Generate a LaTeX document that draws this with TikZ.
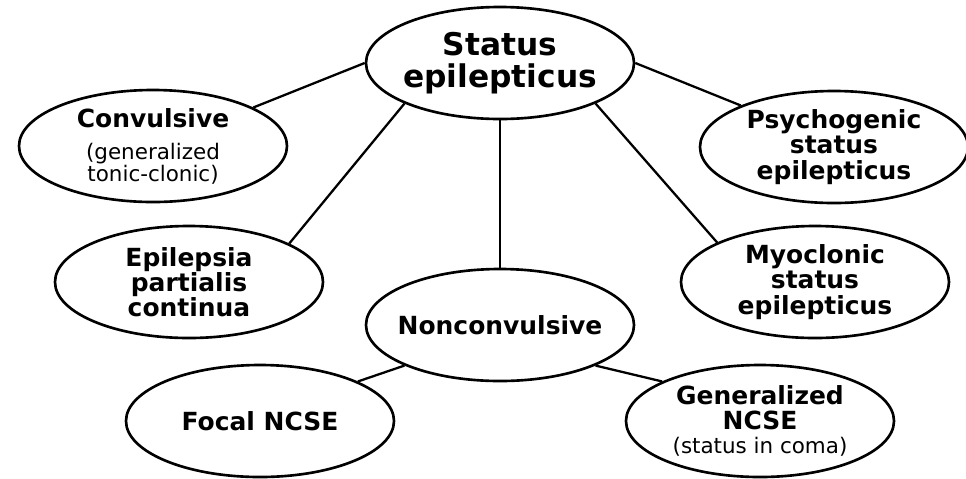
\documentclass[tikz,border=0pt]{standalone}
\usepackage{fontspec}
\setmainfont{DejaVu Sans}
\usetikzlibrary{shapes.geometric}
\tikzset{
  sebox/.style={draw=black, line width=1.5pt, ellipse, fill=white, minimum width=5.36cm, minimum height=2.24cm, inner sep=-6pt, align=center, font=\bfseries\fontsize{14.2}{14.4}\selectfont},
  selink/.style={line width=1.3pt}
}
\newcommand{\subtxt}[1]{{\mdseries\fontsize{12.2}{11}\selectfont #1}}

\begin{document}
\begin{tikzpicture}[x=0.2mm, y=-0.2mm]
\useasboundingbox (0,0) rectangle (966,478);
\node[sebox, font=\bfseries\fontsize{17.8}{18.2}\selectfont] (stat) at (500,63) {Status\\epilepticus};
\node[sebox] (conv) at (153,146) {Convulsive\\[4pt]\subtxt{(generalized}\\[-2pt]\subtxt{tonic-clonic)}};
\node[sebox] (psych) at (834,147) {Psychogenic\\status\\epilepticus};
\node[sebox] (epc) at (189,282) {Epilepsia\\partialis\\continua};
\node[sebox] (myo) at (815,282) {Myoclonic\\status\\epilepticus};
\node[sebox] (ncon) at (500,325) {Nonconvulsive};
\node[sebox] (focal) at (260,421) {Focal NCSE};
\node[sebox] (gen) at (760,421) {Generalized\\NCSE\\[-1pt]\subtxt{(status in coma)}};
\draw[selink] (stat.west) -- (conv.21);
\draw[selink] (stat.east) -- (psych.156);
\draw[selink] (stat.203) -- (epc.21);
\draw[selink] (stat.337) -- (myo.158);
\draw[selink] (stat.south) -- (ncon.north);
\draw[selink] (ncon.203) -- (focal.22);
\draw[selink] (ncon.337) -- (gen.158);
\end{tikzpicture}
\end{document}
